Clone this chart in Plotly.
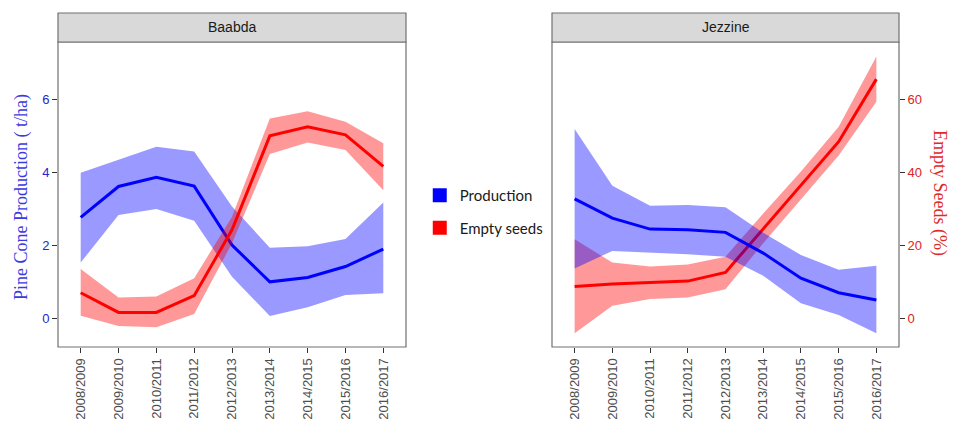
import plotly.graph_objects as go

# Harvest seasons shown on both panels
seasons = ["2008/2009", "2009/2010", "2010/2011", "2011/2012", "2012/2013",
           "2013/2014", "2014/2015", "2015/2016", "2016/2017"]

# Baabda - pine cone production (t/ha): fitted value and confidence band
baabda_prod = [2.77, 3.62, 3.87, 3.63, 2.01, 1.00, 1.12, 1.42, 1.90]
baabda_prod_hi = [4.00, 4.35, 4.71, 4.58, 3.07, 1.94, 1.98, 2.18, 3.18]
baabda_prod_lo = [1.53, 2.84, 3.00, 2.68, 1.14, 0.06, 0.30, 0.64, 0.69]

# Baabda - empty seeds (%)
baabda_empty = [7.0, 1.6, 1.6, 6.2, 24.3, 50.1, 52.6, 50.4, 41.7]
baabda_empty_hi = [13.5, 5.7, 6.0, 11.0, 27.9, 54.9, 56.9, 54.0, 48.1]
baabda_empty_lo = [0.7, -2.1, -2.5, 1.2, 20.6, 45.1, 48.3, 46.2, 35.2]

# Jezzine - pine cone production (t/ha)
jezzine_prod = [3.28, 2.75, 2.45, 2.43, 2.36, 1.79, 1.10, 0.70, 0.50]
jezzine_prod_hi = [5.20, 3.64, 3.09, 3.11, 3.05, 2.35, 1.74, 1.33, 1.44]
jezzine_prod_lo = [1.37, 1.85, 1.81, 1.76, 1.69, 1.17, 0.41, 0.09, -0.41]

# Jezzine - empty seeds (%)
jezzine_empty = [8.7, 9.4, 9.8, 10.2, 12.6, 24.5, 36.5, 48.5, 65.7]
jezzine_empty_hi = [21.7, 15.3, 14.2, 14.8, 16.9, 28.8, 40.3, 52.6, 71.9]
jezzine_empty_lo = [-4.1, 3.4, 5.3, 5.7, 8.0, 20.6, 32.5, 44.7, 59.5]

prod_ticks = [0, 2, 4, 6]
empty_ticks = [0, 20, 40, 60]

BLUE = "#0000ff"
RED = "#ff0000"
BLUE_BAND = "rgba(0,0,255,0.4)"
RED_BAND = "rgba(255,0,0,0.4)"

prod_range = [-0.79, 7.59]
empty_range = [-7.9, 75.9]

fig = go.Figure()


def band(x, hi, lo, color, xa, ya):
    return go.Scatter(x=list(x) + list(x)[::-1], y=list(hi) + list(lo)[::-1],
                      fill="toself", fillcolor=color, line=dict(width=0),
                      mode="lines", hoverinfo="skip", showlegend=False,
                      xaxis=xa, yaxis=ya)


def line(x, y, color, xa, ya):
    return go.Scatter(x=x, y=y, mode="lines", line=dict(color=color, width=3),
                      showlegend=False, xaxis=xa, yaxis=ya)


# Baabda panel: production on y, empty seeds on y2
fig.add_trace(band(seasons, baabda_prod_hi, baabda_prod_lo, BLUE_BAND, "x", "y"))
fig.add_trace(band(seasons, baabda_empty_hi, baabda_empty_lo, RED_BAND, "x", "y2"))
fig.add_trace(line(seasons, baabda_prod, BLUE, "x", "y"))
fig.add_trace(line(seasons, baabda_empty, RED, "x", "y2"))

# Jezzine panel: empty seeds on y3 (right axis), production on y4
fig.add_trace(band(seasons, jezzine_prod_hi, jezzine_prod_lo, BLUE_BAND, "x2", "y4"))
fig.add_trace(band(seasons, jezzine_empty_hi, jezzine_empty_lo, RED_BAND, "x2", "y3"))
fig.add_trace(line(seasons, jezzine_prod, BLUE, "x2", "y4"))
fig.add_trace(line(seasons, jezzine_empty, RED, "x2", "y3"))

# Legend entries
fig.add_trace(go.Scatter(x=[None], y=[None], mode="markers", name="Production",
                         marker=dict(symbol="square", size=14, color=BLUE),
                         legendgroup="p", xaxis="x", yaxis="y"))
fig.add_trace(go.Scatter(x=[None], y=[None], mode="markers", name="Empty seeds",
                         marker=dict(symbol="square", size=14, color=RED),
                         legendgroup="e", xaxis="x", yaxis="y"))

H = 421.0
W = 954.0
y_dom = [1 - 347 / H, 1 - 42 / H]
x1_dom = [58 / W, 406 / W]
x2_dom = [552 / W, 899 / W]

xcommon = dict(type="category", categoryorder="array", categoryarray=seasons,
               range=[-0.6, 8.6], showgrid=False, zeroline=False,
               ticks="outside", ticklen=5, tickcolor="#333333", tickangle=-90,
               tickfont=dict(family="Liberation Sans, Arial", size=13, color="#4d4d4d"),
               showline=False)

fig.update_layout(
    width=954, height=421,
    margin=dict(l=0, r=0, t=0, b=0),
    paper_bgcolor="white", plot_bgcolor="white",
    showlegend=True,
    legend=dict(x=0.440, y=0.575, xanchor="left", yanchor="top",
                font=dict(family="Lato, Liberation Sans", size=15, color="#1a1a1a"),
                tracegroupgap=10, bgcolor="rgba(0,0,0,0)"),
    xaxis=dict(domain=x1_dom, anchor="y", **xcommon),
    xaxis2=dict(domain=x2_dom, anchor="y3", **xcommon),
    yaxis=dict(domain=y_dom, anchor="x", range=prod_range, tickvals=prod_ticks,
               showgrid=False, zeroline=False, ticks="outside", ticklen=5,
               tickcolor="#333333",
               tickfont=dict(family="Liberation Sans, Arial", size=13, color="#2525cc")),
    yaxis2=dict(domain=y_dom, anchor="x", overlaying="y", range=empty_range,
                visible=False),
    yaxis3=dict(domain=y_dom, anchor="x2", side="right", range=empty_range,
                tickvals=empty_ticks, showgrid=False, zeroline=False,
                ticks="outside", ticklen=5, tickcolor="#333333",
                tickfont=dict(family="Liberation Sans, Arial", size=13, color="#dd2222")),
    yaxis4=dict(domain=y_dom, anchor="x2", overlaying="y3", range=prod_range,
                visible=False),
)

# Panel borders and facet strips
strip_h = 29 / (347 - 42)
for xr, yr, title in [("x domain", "y domain", "Baabda"),
                      ("x2 domain", "y3 domain", "Jezzine")]:
    fig.add_shape(type="rect", xref=xr, yref=yr, x0=0, x1=1, y0=0, y1=1,
                  line=dict(color="#707070", width=1.2), fillcolor="rgba(0,0,0,0)",
                  layer="above")
    fig.add_shape(type="rect", xref=xr, yref=yr, x0=0, x1=1, y0=1, y1=1 + strip_h,
                  line=dict(color="#707070", width=1.2), fillcolor="#d9d9d9")
    fig.add_annotation(xref=xr, yref=yr, x=0.5, y=1 + strip_h / 2, text=title,
                       showarrow=False, xanchor="center", yanchor="middle",
                       font=dict(family="Liberation Sans, Arial", size=14, color="#1a1a1a"))

# Axis titles
fig.add_annotation(xref="paper", yref="paper", x=21 / W, y=1 - 197 / H,
                   text="Pine Cone Production ( t/ha)", textangle=-90,
                   showarrow=False, xanchor="center", yanchor="middle",
                   font=dict(family="Liberation Serif, Times New Roman", size=18,
                             color="#3a3ae0"))
fig.add_annotation(xref="paper", yref="paper", x=940 / W, y=1 - 193 / H,
                   text="Empty Seeds (%)", textangle=90,
                   showarrow=False, xanchor="center", yanchor="middle",
                   font=dict(family="Liberation Serif, Times New Roman", size=18,
                             color="#e02a2a"))

fig.write_html("out.html")
